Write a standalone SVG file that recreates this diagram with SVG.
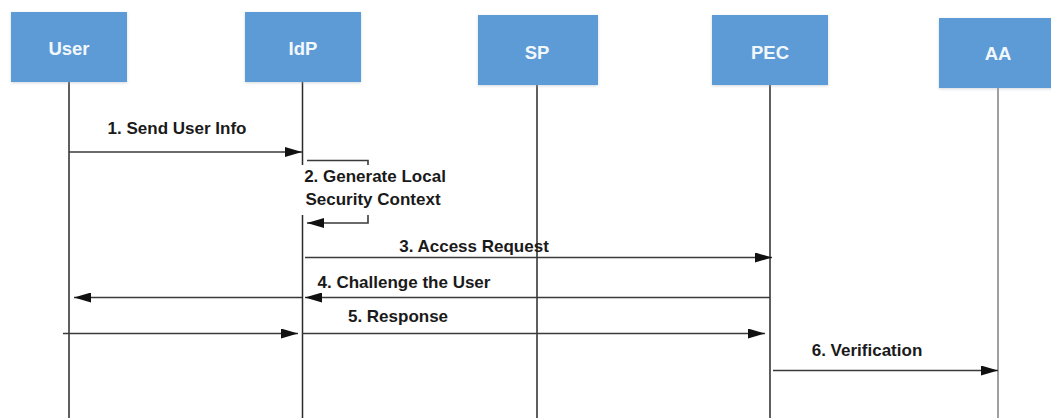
<svg xmlns="http://www.w3.org/2000/svg" width="1051" height="418" viewBox="0 0 1051 418">
  <style>
    .box { fill: #5B9BD5; filter: url(#shadow); }
    .btxt { font-family: "Liberation Sans", Arial, sans-serif; font-weight: bold; font-size: 18.5px; fill: #F2F7FC; text-anchor: middle; }
    .life { stroke: #2a2a2a; stroke-width: 1.5; fill: none; }
    .msg { stroke: #3a3a3a; stroke-width: 1.6; fill: none; }
    .lbl { font-family: "Liberation Sans", Arial, sans-serif; font-weight: bold; font-size: 17px; fill: #1a1a1a; text-anchor: middle; }
  </style>
  <defs>
    <filter id="shadow" x="-10%" y="-10%" width="120%" height="130%">
      <feDropShadow dx="0" dy="1" stdDeviation="1.5" flood-color="#9aa7b5" flood-opacity="0.45"/>
    </filter>
    <marker id="arr" markerUnits="userSpaceOnUse" markerWidth="17" markerHeight="10" refX="17" refY="5" orient="auto">
      <path d="M0,0 L17,5 L0,10 z" fill="#111"/>
    </marker>
  </defs>
  <rect width="1051" height="418" fill="#ffffff"/>

  <g id="lifelines">
    <line class="life" x1="69" y1="82" x2="69" y2="418"/>
    <line class="life" x1="302.5" y1="82" x2="302.5" y2="418"/>
    <line class="life" x1="537" y1="85" x2="537" y2="418"/>
    <line class="life" x1="770" y1="85" x2="770" y2="418"/>
    <line class="life" x1="998" y1="88" x2="998" y2="418" style="stroke:#808080"/>
  </g>

  <g id="node-user">
    <rect class="box" x="11" y="12" width="116" height="70"/>
    <text class="btxt" x="69" y="55">User</text>
  </g>
  <g id="node-idp">
    <rect class="box" x="245" y="12" width="116" height="70"/>
    <text class="btxt" x="303" y="55">IdP</text>
  </g>
  <g id="node-sp">
    <rect class="box" x="478" y="15" width="120" height="70"/>
    <text class="btxt" x="537" y="59">SP</text>
  </g>
  <g id="node-pec">
    <rect class="box" x="712" y="15" width="116" height="70"/>
    <text class="btxt" x="770" y="59">PEC</text>
  </g>
  <g id="node-aa">
    <rect class="box" x="939" y="18" width="120" height="70"/>
    <text class="btxt" x="998" y="60">AA</text>
  </g>

  <g id="connectors">
    <line class="msg" x1="69" y1="152" x2="302" y2="152" marker-end="url(#arr)"/>
    <path class="msg" d="M307,160.5 H368 V223 H307" marker-end="url(#arr)"/>
    <line class="msg" x1="305" y1="257.5" x2="772" y2="257.5" marker-end="url(#arr)"/>
    <line class="msg" x1="770" y1="297.5" x2="305" y2="297.5" marker-end="url(#arr)"/>
    <line class="msg" x1="302" y1="297.5" x2="74" y2="297.5" marker-end="url(#arr)"/>
    <line class="msg" x1="63" y1="333.5" x2="298" y2="333.5" marker-end="url(#arr)"/>
    <line class="msg" x1="302" y1="333.5" x2="765" y2="333.5" marker-end="url(#arr)"/>
    <line class="msg" x1="773" y1="370.5" x2="998" y2="370.5" marker-end="url(#arr)"/>
  </g>

  <g id="labels">
    <text class="lbl" x="177" y="134">1. Send User Info</text>
    <rect x="296" y="165" width="158" height="50" fill="#ffffff"/>
    <text class="lbl" x="375" y="182">2. Generate Local</text>
    <text class="lbl" x="373" y="205">Security Context</text>
    <text class="lbl" x="474" y="251.5">3. Access Request</text>
    <text class="lbl" x="404" y="288">4. Challenge the User</text>
    <text class="lbl" x="398" y="321.5">5. Response</text>
    <text class="lbl" x="867" y="356">6. Verification</text>
  </g>
</svg>
